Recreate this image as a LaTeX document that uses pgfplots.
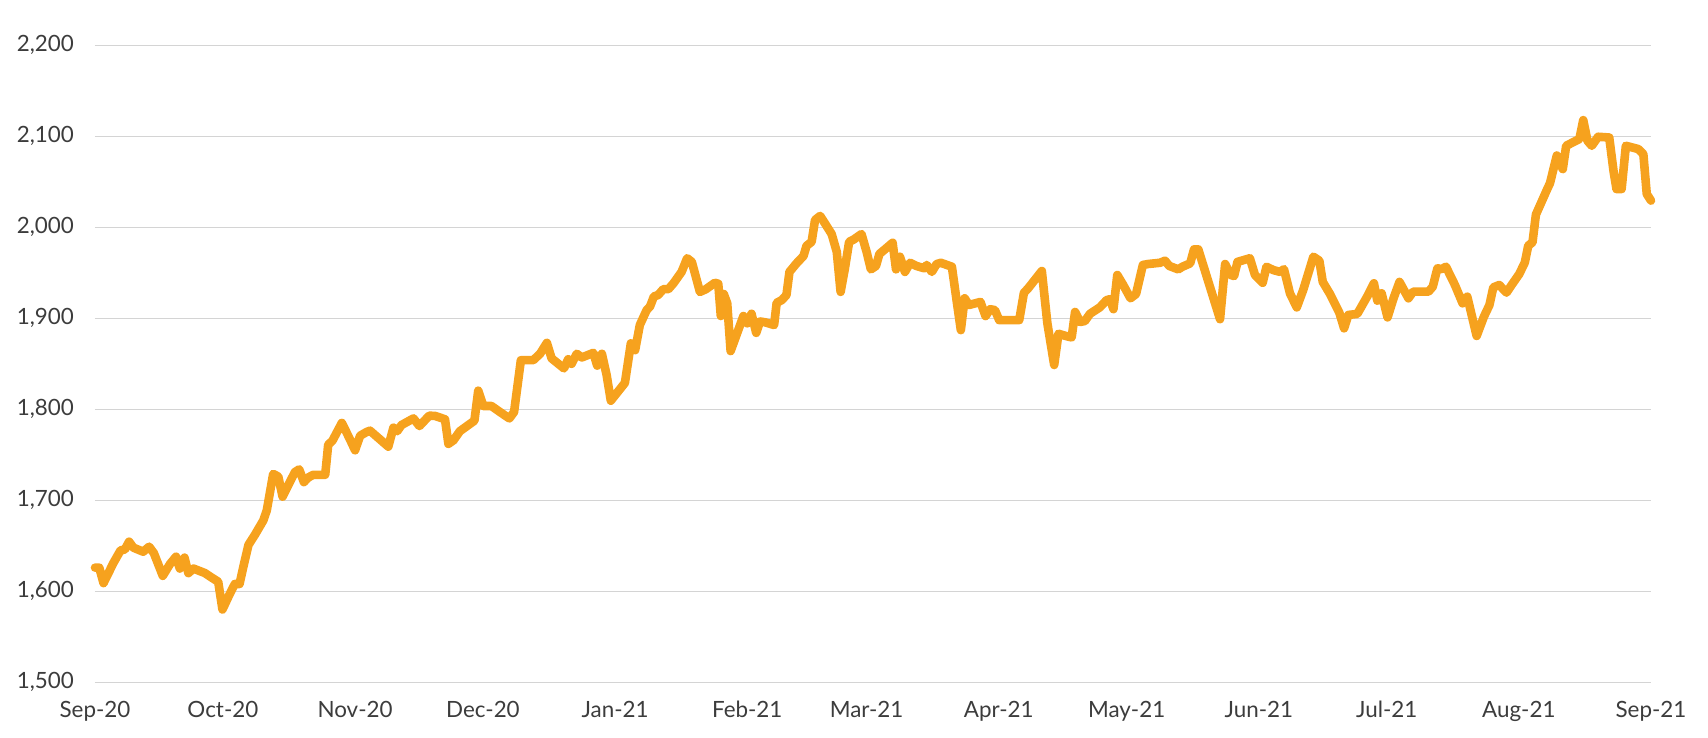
\documentclass[border=0pt]{standalone}
\usepackage{fontspec}
\setmainfont{Lato}
\usepackage{pgfplots}
\pgfplotsset{compat=1.18}
\definecolor{goldline}{RGB}{246,162,30}
\definecolor{gridc}{RGB}{212,212,212}
\definecolor{labc}{RGB}{60,60,60}
\begin{document}
\begin{tikzpicture}
\useasboundingbox (-47.5pt,-27.85pt) rectangle (806.5pt,341.15pt);
\begin{axis}[at={(0,0)}, anchor=south west, scale only axis,
 width=778pt, height=318.5pt,
 xmin=0, xmax=365, ymin=1500, ymax=2200,
 xtick={0,30,61,91,122,153,181,212,242,273,303,334,365},
 xticklabels={Sep-20,Oct-20,Nov-20,Dec-20,Jan-21,Feb-21,Mar-21,Apr-21,May-21,Jun-21,Jul-21,Aug-21,Sep-21},
 ytick={1500,1600,1700,1800,1900,2000,2100,2200},
 axis line style={draw=none}, tick style={draw=none}, major tick length=0pt,
 ymajorgrids, grid style={gridc, line width=0.6pt},
 tick label style={font=\fontsize{11.2}{13}\selectfont, text=labc},
 /pgf/number format/assume math mode=true, /pgf/number format/1000 sep={,},
 yticklabel style={xshift=-7pt},
 xticklabel style={yshift=-6pt},
 clip=false,
]
\addplot[goldline, line width=4.3pt, line join=round, line cap=round, mark=none] table {
x y
0 1626
1 1626
2 1609
4.3 1631
6.0 1645
7.0 1646
8.0 1654.5
9.0 1648
11.3 1643.5
12.7 1649
13.8 1642
15.9 1617
17.6 1630
19.0 1638
19.9 1625
21.0 1637
21.9 1620
23.1 1625
25.8 1620
27.4 1615
28.9 1610.5
29.9 1580
31.7 1598
32.8 1608
33.9 1608
34.8 1627
36.0 1651
37.5 1662
39.5 1678
40.3 1689
41.8 1729
43.0 1726
44.0 1704
45.7 1720
46.9 1731
47.9 1734
49.0 1720
50.0 1725
51.2 1728
54.0 1728
54.7 1761
55.7 1765.5
57.9 1785
59.7 1768
61.0 1755
62.2 1771
63.7 1775
64.5 1776.5
68.8 1759
70.0 1779.8
70.9 1776
71.9 1782.7
74.7 1790
76.1 1781.6
78.4 1793
79.8 1792.7
82.1 1789
82.9 1762
84.1 1766
85.6 1776
89.0 1787.5
89.9 1820.5
91.1 1803.6
93.0 1803.6
95.0 1797
97.2 1790
98.3 1797
99.9 1854
102.8 1854
104.4 1861
106.0 1873
107.1 1856
110.0 1845
111.0 1855
111.8 1850
113.0 1861
114.2 1857
116.9 1862
117.8 1848
118.9 1861
120.0 1838
121.0 1809.5
124.3 1829
125.7 1872.5
126.7 1865
127.8 1892.6
129.4 1909
130.2 1913
131.1 1924
132.1 1925.6
133.3 1932
134.5 1932
135.7 1938.5
137.6 1951
138.9 1966
140.0 1962
141.9 1929
143.3 1932
145.4 1939
146.2 1938
146.8 1902.5
147.5 1926.7
148.3 1916.5
149.1 1864
150.5 1882
152.1 1902.5
153.0 1894.5
154.0 1905
155.1 1884
156.0 1896.5
157.2 1895.6
159.3 1892.6
159.9 1917
161.1 1920
162.2 1925.6
162.9 1951
164.6 1960.6
166.2 1968.5
166.9 1979.6
168.1 1984
168.9 2008
170.1 2012.5
171.2 2004.5
172.8 1992.6
174.0 1973
174.9 1929
175.9 1954.7
176.9 1984
178.0 1986.7
179.8 1992.6
181.0 1973
182.0 1953.8
183.2 1957.5
184.0 1970.7
185.3 1975.8
187.1 1983
187.9 1953.8
188.8 1967.7
190.0 1951
191.2 1961
192.7 1957.5
194.5 1955
195.1 1958.6
196.3 1951
197.4 1959.5
198.4 1961
201.0 1956.7
202.1 1920
203.1 1887
204.0 1922
205.0 1914.6
207.7 1918
208.9 1902.5
210.0 1910
211.1 1909
212.1 1898
216.8 1898
217.9 1928
218.9 1933
222.1 1952
223.4 1894.5
225.0 1848.7
226.0 1883
227.8 1880.5
229.1 1879
229.9 1907
231.1 1896
232.2 1897
233.4 1905
235.7 1912
237.3 1920
238.1 1921
238.9 1910
239.8 1947.6
241.2 1936.6
242.9 1922
244.2 1926.7
245.8 1958.6
247.1 1959.7
249.8 1961
251.0 1963.3
252.0 1957.5
254.1 1953.8
255.1 1956.7
256.9 1960.4
257.8 1975.8
258.8 1975.8
263.9 1899
265.1 1959.7
266.4 1947.6
267.2 1946.5
268.0 1962
270.9 1966
272.1 1947.6
273.9 1939
274.8 1956.7
276.4 1953
278.0 1951
278.9 1954
280.3 1927.5
281.9 1912
283.4 1931
285.8 1967.7
287.2 1963.3
288.0 1940
289.7 1926.7
291.9 1906
293.0 1889
294.0 1903.7
296.1 1904.8
298.5 1924.6
300.0 1938.5
300.8 1919.4
301.8 1927.5
303.2 1901
304.6 1922
306.0 1940
308.1 1922
309.2 1929.3
312.8 1929.3
313.8 1934.7
314.9 1955
315.9 1954
316.9 1956.7
319.0 1936.6
320.8 1916.5
321.9 1923.8
324.1 1880.6
325.8 1901.8
327.1 1914.6
328.0 1934
329.4 1936.6
331.1 1928.2
332.3 1936.6
334.1 1948.7
335.4 1961.4
336.2 1979.8
337.2 1983.5
338.0 2014
340.5 2040.4
341.3 2048.5
342.9 2078.9
344.3 2064
345.1 2089.6
346.6 2093.2
348.2 2097
349.1 2117.8
350.1 2095
351.1 2089.6
352.6 2099.5
355.2 2098.7
356.2 2062
356.9 2042
358.1 2042
359.1 2089.6
362.0 2086
363.2 2080.5
364.0 2036.6
365.0 2029.3
};
\end{axis}
\end{tikzpicture}
\end{document}
